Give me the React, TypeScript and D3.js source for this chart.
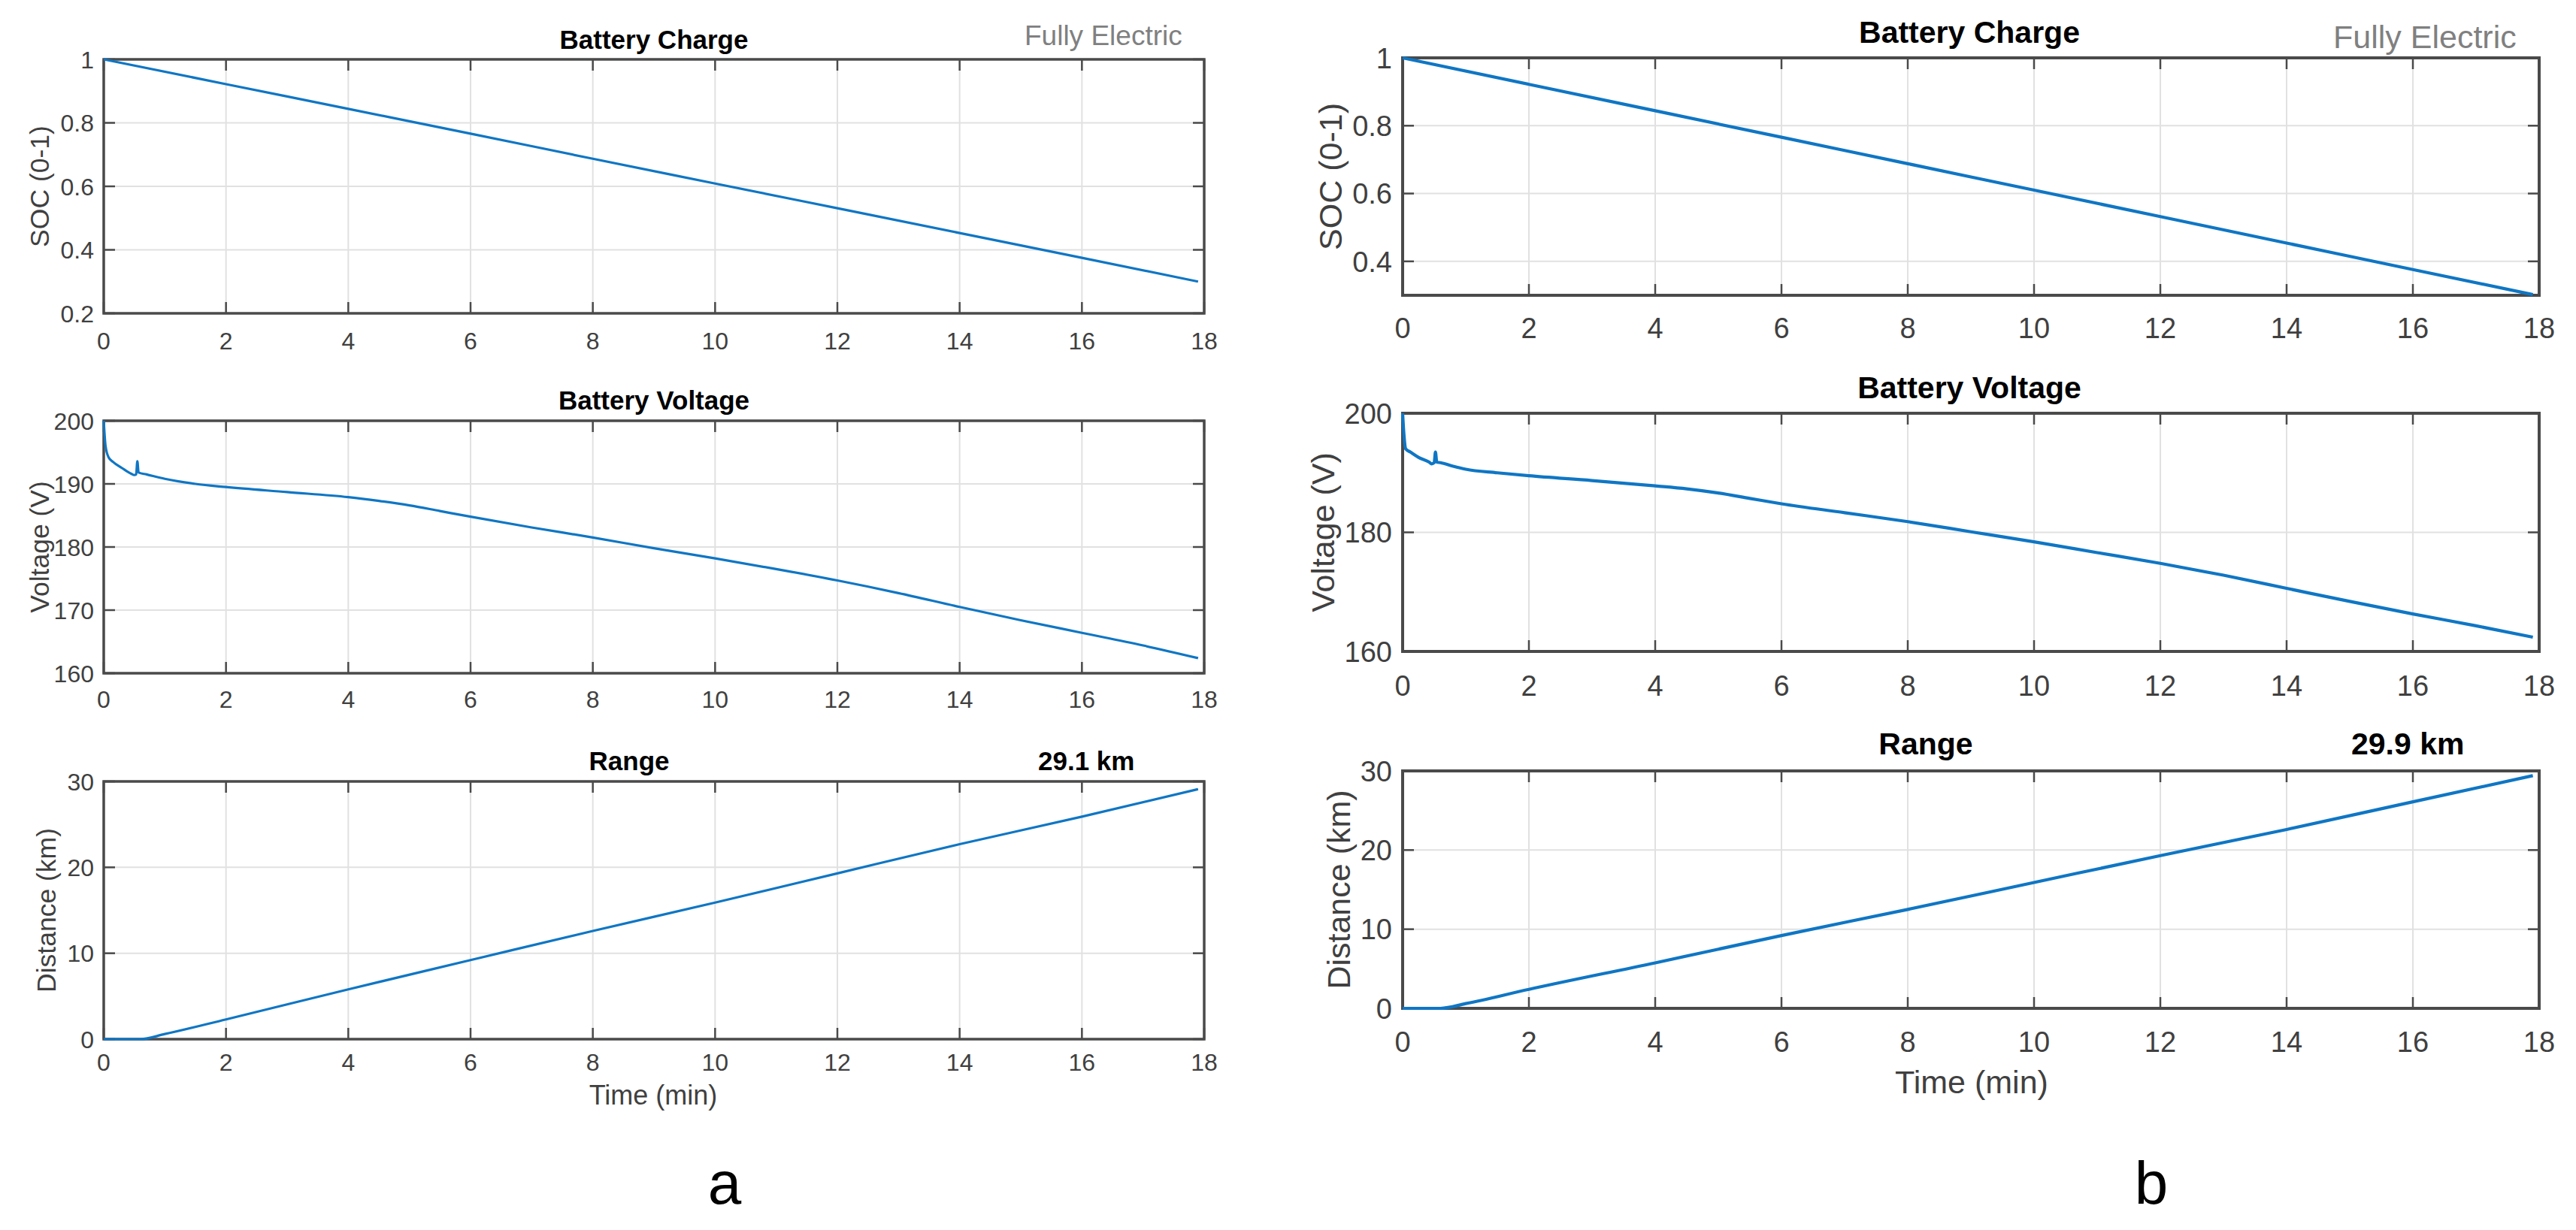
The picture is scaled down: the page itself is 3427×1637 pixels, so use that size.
import React from 'react';
import * as d3 from 'd3';

// ---------- data ----------
const timeTicks = [0, 2, 4, 6, 8, 10, 12, 14, 16, 18];

const socTimeA = [0, 2, 4, 6, 8, 10, 12, 14, 16, 17.9];
const socA = [1.0, 0.922, 0.844, 0.766, 0.687, 0.609, 0.531, 0.453, 0.375, 0.3];
const socTimeB = [0, 2, 4, 6, 8, 10, 12, 14, 16, 17.9];
const socB = [1.0, 0.922, 0.844, 0.766, 0.688, 0.61, 0.532, 0.454, 0.376, 0.302];

const voltTimeA = [0, 0.03, 0.08, 0.15, 0.3, 0.45, 0.5, 0.53, 0.55, 0.57, 0.7, 1, 1.5, 2, 3, 4, 4.5, 5, 5.5, 6, 7, 8, 9, 10, 11, 12, 13, 14, 15, 16, 17, 17.9];
const voltA = [200, 196, 194.2, 193.5, 192.5, 191.6, 191.4, 191.5, 193.6, 191.8, 191.5, 190.8, 190.0, 189.5, 188.7, 187.9, 187.3, 186.6, 185.7, 184.8, 183.1, 181.5, 179.8, 178.2, 176.5, 174.7, 172.7, 170.5, 168.4, 166.4, 164.4, 162.4];
const voltTimeB = [0, 0.02, 0.05, 0.12, 0.25, 0.42, 0.46, 0.5, 0.52, 0.54, 0.6, 0.8, 1, 1.5, 2, 3, 4, 4.5, 5, 5.5, 6, 7, 8, 9, 10, 11, 12, 13, 14, 15, 16, 17, 17.9];
const voltB = [200, 196.5, 194.0, 193.5, 192.6, 191.8, 191.5, 191.7, 193.5, 191.8, 191.7, 191.1, 190.6, 190.0, 189.5, 188.7, 187.8, 187.3, 186.6, 185.7, 184.8, 183.3, 181.8, 180.1, 178.4, 176.6, 174.8, 172.8, 170.6, 168.4, 166.3, 164.3, 162.4];

const distTimeA = [0, 0.6, 1, 2, 4, 6, 8, 10, 12, 14, 16, 17.9];
const distA = [0, 0, 0.6, 2.3, 5.8, 9.2, 12.6, 15.9, 19.3, 22.7, 25.9, 29.1];
const distTimeB = [0, 0.6, 1, 2, 4, 6, 8, 10, 12, 14, 16, 17.9];
const distB = [0, 0, 0.6, 2.4, 5.75, 9.2, 12.5, 15.9, 19.3, 22.6, 26.1, 29.4];

const socTicksA = [0.2, 0.4, 0.6, 0.8, 1];
const socTicksB = [0.4, 0.6, 0.8, 1];
const voltTicksA = [160, 170, 180, 190, 200];
const voltTicksB = [160, 180, 200];
const distTicks = [0, 10, 20, 30];

const socDomainA = [0.2, 1];
const socDomainB = [0.3, 1];
const voltDomain = [160, 200];
const distDomain = [0, 30];
const timeDomain = [0, 18];

const titles = ['Battery Charge', 'Battery Voltage', 'Range'];
const yLabels = ['SOC (0-1)', 'Voltage (V)', 'Distance (km)'];
const xLabel = 'Time (min)';
const modeLabel = 'Fully Electric';
const rangeA = '29.1 km';
const rangeB = '29.9 km';
const panelLetters = ['a', 'b'];

// ---------- styles ----------
const FONT = "'Liberation Sans', Arial, Helvetica, sans-serif";
const BLUE = '#0f76c4';
const GRID = '#e1e1e1';
const FRAME = '#4a4a4a';
const TICKTXT = '#404040';

type PlotProps = {
  left: number; right: number; top: number; bottom: number;
  yDomain: number[]; yTicks: number[];
  t: number[]; v: number[];
  tickFont: number; tickBaseline: number; yTickGap: number;
  frameW: number; lineW: number; tickLen: number;
};

function Plot(p: PlotProps) {
  const x = d3.scaleLinear().domain(timeDomain).range([p.left, p.right]);
  const y = d3.scaleLinear().domain(p.yDomain).range([p.bottom, p.top]);
  const pts: [number, number][] = p.t.map((t, i) => [t, p.v[i]]);
  const line = d3.line<[number, number]>().x(d => x(d[0])).y(d => y(d[1])).curve(d3.curveMonotoneX);
  return (
    <g>
      {timeTicks.map(t => (
        <line key={'gx' + t} x1={x(t)} x2={x(t)} y1={p.top} y2={p.bottom} stroke={GRID} strokeWidth={2} />
      ))}
      {p.yTicks.map(v => (
        <line key={'gy' + v} x1={p.left} x2={p.right} y1={y(v)} y2={y(v)} stroke={GRID} strokeWidth={2} />
      ))}
      <rect x={p.left} y={p.top} width={p.right - p.left} height={p.bottom - p.top} fill="none" stroke={FRAME} strokeWidth={p.frameW} />
      {timeTicks.map(t => (
        <g key={'tx' + t}>
          <line x1={x(t)} x2={x(t)} y1={p.bottom} y2={p.bottom - p.tickLen} stroke={FRAME} strokeWidth={2.5} />
          <line x1={x(t)} x2={x(t)} y1={p.top} y2={p.top + p.tickLen} stroke={FRAME} strokeWidth={2.5} />
          <text x={x(t)} y={p.tickBaseline} textAnchor="middle" fontFamily={FONT} fontSize={p.tickFont} fill={TICKTXT}>{String(t)}</text>
        </g>
      ))}
      {p.yTicks.map(v => (
        <g key={'ty' + v}>
          <line x1={p.left} x2={p.left + p.tickLen} y1={y(v)} y2={y(v)} stroke={FRAME} strokeWidth={2.5} />
          <line x1={p.right} x2={p.right - p.tickLen} y1={y(v)} y2={y(v)} stroke={FRAME} strokeWidth={2.5} />
          <text x={p.left - p.yTickGap} y={y(v)} dy="0.36em" textAnchor="end" fontFamily={FONT} fontSize={p.tickFont} fill={TICKTXT}>{String(v)}</text>
        </g>
      ))}
      <path d={line(pts) || ''} fill="none" stroke={BLUE} strokeWidth={p.lineW} strokeLinejoin="round" />
    </g>
  );
}

function YLabel({ x, y, size, text }: { x: number; y: number; size: number; text: string }) {
  return (
    <text transform={`translate(${x},${y}) rotate(-90)`} textAnchor="middle" fontFamily={FONT} fontSize={size} fill={TICKTXT}>{text}</text>
  );
}

export default function App() {
  // layout panel a
  const aL = 138, aR = 1602;
  const aRows = [[79, 417], [560, 896], [1040, 1383]];
  const aTickBase = [465, 942, 1425];
  // layout panel b
  const bL = 1866, bR = 3378;
  const bRows = [[77, 393], [550, 867], [1026, 1342]];
  const bTickBase = [450, 926, 1400];

  const aCommon = { left: aL, right: aR, tickFont: 32, yTickGap: 13, frameW: 3.5, lineW: 3.2, tickLen: 15 };
  const bCommon = { left: bL, right: bR, tickFont: 38, yTickGap: 14, frameW: 4, lineW: 4.2, tickLen: 15 };

  return (
    <div style={{ position: 'absolute', left: 0, top: 0, width: 3427, height: 1637, background: '#fff' }}>
      <svg width={3427} height={1637} viewBox="0 0 3427 1637" xmlns="http://www.w3.org/2000/svg">
        <rect x={0} y={0} width={3427} height={1637} fill="#fff" />

        {/* ----- Panel a ----- */}
        <Plot {...aCommon} top={aRows[0][0]} bottom={aRows[0][1]} yDomain={socDomainA} yTicks={socTicksA} t={socTimeA} v={socA} tickBaseline={aTickBase[0]} />
        <Plot {...aCommon} top={aRows[1][0]} bottom={aRows[1][1]} yDomain={voltDomain} yTicks={voltTicksA} t={voltTimeA} v={voltA} tickBaseline={aTickBase[1]} />
        <Plot {...aCommon} top={aRows[2][0]} bottom={aRows[2][1]} yDomain={distDomain} yTicks={distTicks} t={distTimeA} v={distA} tickBaseline={aTickBase[2]} />

        <text x={870} y={65} textAnchor="middle" fontFamily={FONT} fontWeight="bold" fontSize={35} fill="#000">{titles[0]}</text>
        <text x={1363} y={60} textAnchor="start" fontFamily={FONT} fontSize={37} fill="#808080">{modeLabel}</text>
        <text x={870} y={545} textAnchor="middle" fontFamily={FONT} fontWeight="bold" fontSize={35} fill="#000">{titles[1]}</text>
        <text x={837} y={1025} textAnchor="middle" fontFamily={FONT} fontWeight="bold" fontSize={35} fill="#000">{titles[2]}</text>
        <text x={1381} y={1025} textAnchor="start" fontFamily={FONT} fontWeight="bold" fontSize={35} fill="#000">{rangeA}</text>

        <YLabel x={65} y={(aRows[0][0] + aRows[0][1]) / 2} size={35.5} text={yLabels[0]} />
        <YLabel x={65} y={(aRows[1][0] + aRows[1][1]) / 2} size={35.5} text={yLabels[1]} />
        <YLabel x={74} y={(aRows[2][0] + aRows[2][1]) / 2} size={35.5} text={yLabels[2]} />
        <text x={869} y={1470} textAnchor="middle" fontFamily={FONT} fontSize={36} fill={TICKTXT}>{xLabel}</text>
        <text x={964} y={1602} textAnchor="middle" fontFamily={FONT} fontSize={80} fill="#000">{panelLetters[0]}</text>

        {/* ----- Panel b ----- */}
        <Plot {...bCommon} top={bRows[0][0]} bottom={bRows[0][1]} yDomain={socDomainB} yTicks={socTicksB} t={socTimeB} v={socB} tickBaseline={bTickBase[0]} />
        <Plot {...bCommon} top={bRows[1][0]} bottom={bRows[1][1]} yDomain={voltDomain} yTicks={voltTicksB} t={voltTimeB} v={voltB} tickBaseline={bTickBase[1]} />
        <Plot {...bCommon} top={bRows[2][0]} bottom={bRows[2][1]} yDomain={distDomain} yTicks={distTicks} t={distTimeB} v={distB} tickBaseline={bTickBase[2]} />

        <text x={2620} y={57} textAnchor="middle" fontFamily={FONT} fontWeight="bold" fontSize={41} fill="#000">{titles[0]}</text>
        <text x={3104} y={64} textAnchor="start" fontFamily={FONT} fontSize={43} fill="#808080">{modeLabel}</text>
        <text x={2620} y={530} textAnchor="middle" fontFamily={FONT} fontWeight="bold" fontSize={41} fill="#000">{titles[1]}</text>
        <text x={2562} y={1004} textAnchor="middle" fontFamily={FONT} fontWeight="bold" fontSize={41} fill="#000">{titles[2]}</text>
        <text x={3128} y={1004} textAnchor="start" fontFamily={FONT} fontWeight="bold" fontSize={41} fill="#000">{rangeB}</text>

        <YLabel x={1785} y={(bRows[0][0] + bRows[0][1]) / 2} size={43} text={yLabels[0]} />
        <YLabel x={1775} y={(bRows[1][0] + bRows[1][1]) / 2} size={43} text={yLabels[1]} />
        <YLabel x={1796} y={(bRows[2][0] + bRows[2][1]) / 2} size={43} text={yLabels[2]} />
        <text x={2623} y={1455} textAnchor="middle" fontFamily={FONT} fontSize={43} fill={TICKTXT}>{xLabel}</text>
        <text x={2862} y={1602} textAnchor="middle" fontFamily={FONT} fontSize={80} fill="#000">{panelLetters[1]}</text>
      </svg>
    </div>
  );
}
